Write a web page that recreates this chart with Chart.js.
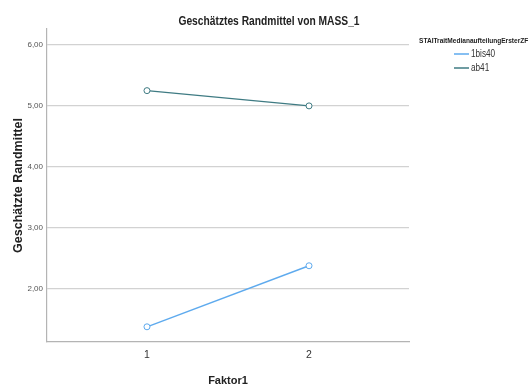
<!DOCTYPE html>
<html>
<head>
<meta charset="utf-8">
<script src="https://cdn.jsdelivr.net/npm/chart.js@4/dist/chart.umd.min.js"></script>
<style>
  html, body { margin: 0; padding: 0; background: #fff; }
  #wrap { width: 529px; height: 385px; }
</style>
</head>
<body>
<div id="wrap"><canvas id="chart" width="529" height="385"></canvas></div>
<script>
// Data
const factorLevels = [1, 2];
const seriesNames = ['1bis40', 'ab41'];
const values1bis40 = [1.38, 2.38];
const valuesAb41 = [5.25, 5.00];
const yTickValues = [2, 3, 4, 5, 6];
const chartTitle = 'Geschätztes Randmittel von MASS_1';
const legendTitle = 'STAITraitMedianaufteilungErsterZF';

const FONT = '"Liberation Sans", Arial, sans-serif';
const SQUEEZE = 0.82; // the SPSS export looks horizontally condensed
const colors = ['#5eaaee', '#3f7b83'];

function toPoints(vals) {
  return vals.map((v, i) => ({ x: factorLevels[i], y: v }));
}

// condensed text helper
function narrowText(ctx, text, x, y, align) {
  ctx.save();
  ctx.translate(x, y);
  ctx.scale(SQUEEZE, 1);
  ctx.textAlign = align;
  ctx.fillText(text, 0, 0);
  ctx.restore();
}

// title + legend drawn by hand, SPSS style
const sideLegend = {
  id: 'sideLegend',
  afterDraw(chart) {
    const ctx = chart.ctx;
    ctx.save();
    ctx.textBaseline = 'middle';
    ctx.fillStyle = '#222';
    ctx.font = `bold 12.5px ${FONT}`;
    narrowText(ctx, chartTitle, 269, 22, 'center');

    ctx.font = `bold 8px ${FONT}`;
    narrowText(ctx, legendTitle, 419, 41, 'left');
    chart.data.datasets.forEach((ds, i) => {
      const y = 54 + i * 14;
      ctx.strokeStyle = ds.borderColor;
      ctx.lineWidth = 1.5;
      ctx.beginPath();
      ctx.moveTo(454, y);
      ctx.lineTo(469, y);
      ctx.stroke();
      ctx.fillStyle = '#333';
      ctx.font = `10px ${FONT}`;
      narrowText(ctx, ds.label, 471, y, 'left');
    });
    ctx.restore();
  }
};

const bgPlugin = {
  id: 'bg',
  beforeDraw(chart) {
    const ctx = chart.ctx;
    ctx.save();
    ctx.fillStyle = '#fff';
    ctx.fillRect(0, 0, chart.width, chart.height);
    ctx.restore();
  }
};

new Chart(document.getElementById('chart'), {
  type: 'line',
  data: {
    datasets: [
      {
        label: seriesNames[0],
        data: toPoints(values1bis40),
        borderColor: colors[0],
        pointBorderColor: colors[0],
        pointBackgroundColor: '#fff',
        borderWidth: 1.4,
        pointRadius: 3,
        pointBorderWidth: 1,
        tension: 0
      },
      {
        label: seriesNames[1],
        data: toPoints(valuesAb41),
        borderColor: colors[1],
        pointBorderColor: colors[1],
        pointBackgroundColor: '#fff',
        borderWidth: 1.4,
        pointRadius: 3,
        pointBorderWidth: 1,
        tension: 0
      }
    ]
  },
  options: {
    responsive: false,
    animation: false,
    layout: { padding: { left: 0, right: 120, top: 29, bottom: 0 } },
    plugins: {
      legend: { display: false },
      tooltip: { enabled: false },
      title: { display: false }
    },
    scales: {
      x: {
        type: 'linear',
        min: 0.383,
        max: 2.617,
        afterBuildTicks(scale) {
          scale.ticks = factorLevels.map(v => ({ value: v }));
        },
        afterFit(scale) { scale.height = 43; },
        grid: { display: false, drawTicks: false },
        border: { display: true, color: '#b4b4b4', width: 1.2 },
        ticks: {
          color: '#333',
          padding: 7,
          font: { family: FONT, size: 10.5 },
          callback: v => String(v)
        },
        title: {
          display: true,
          text: 'Faktor1',
          color: '#222',
          font: { family: FONT, size: 11, weight: 'bold', lineHeight: 0.8 },
          padding: { top: 0, bottom: 0 }
        }
      },
      y: {
        min: 1.131,
        max: 6.26,
        afterBuildTicks(scale) {
          scale.ticks = yTickValues.map(v => ({ value: v }));
        },
        afterFit(scale) { scale.width = 47; },
        grid: { color: '#d2d2d2', lineWidth: 1.2, drawTicks: false },
        border: { display: true, color: '#b4b4b4', width: 1.2 },
        ticks: {
          color: '#555',
          padding: 4,
          font: { family: FONT, size: 8 },
          callback: v => Number(v).toFixed(2).replace('.', ',')
        },
        title: {
          display: true,
          text: 'Geschätzte Randmittel',
          color: '#222',
          font: { family: FONT, size: 12.5, weight: 'bold', lineHeight: 1.2 },
          padding: { top: 11, bottom: 0 }
        }
      }
    }
  },
  plugins: [bgPlugin, sideLegend]
});
</script>
</body>
</html>
